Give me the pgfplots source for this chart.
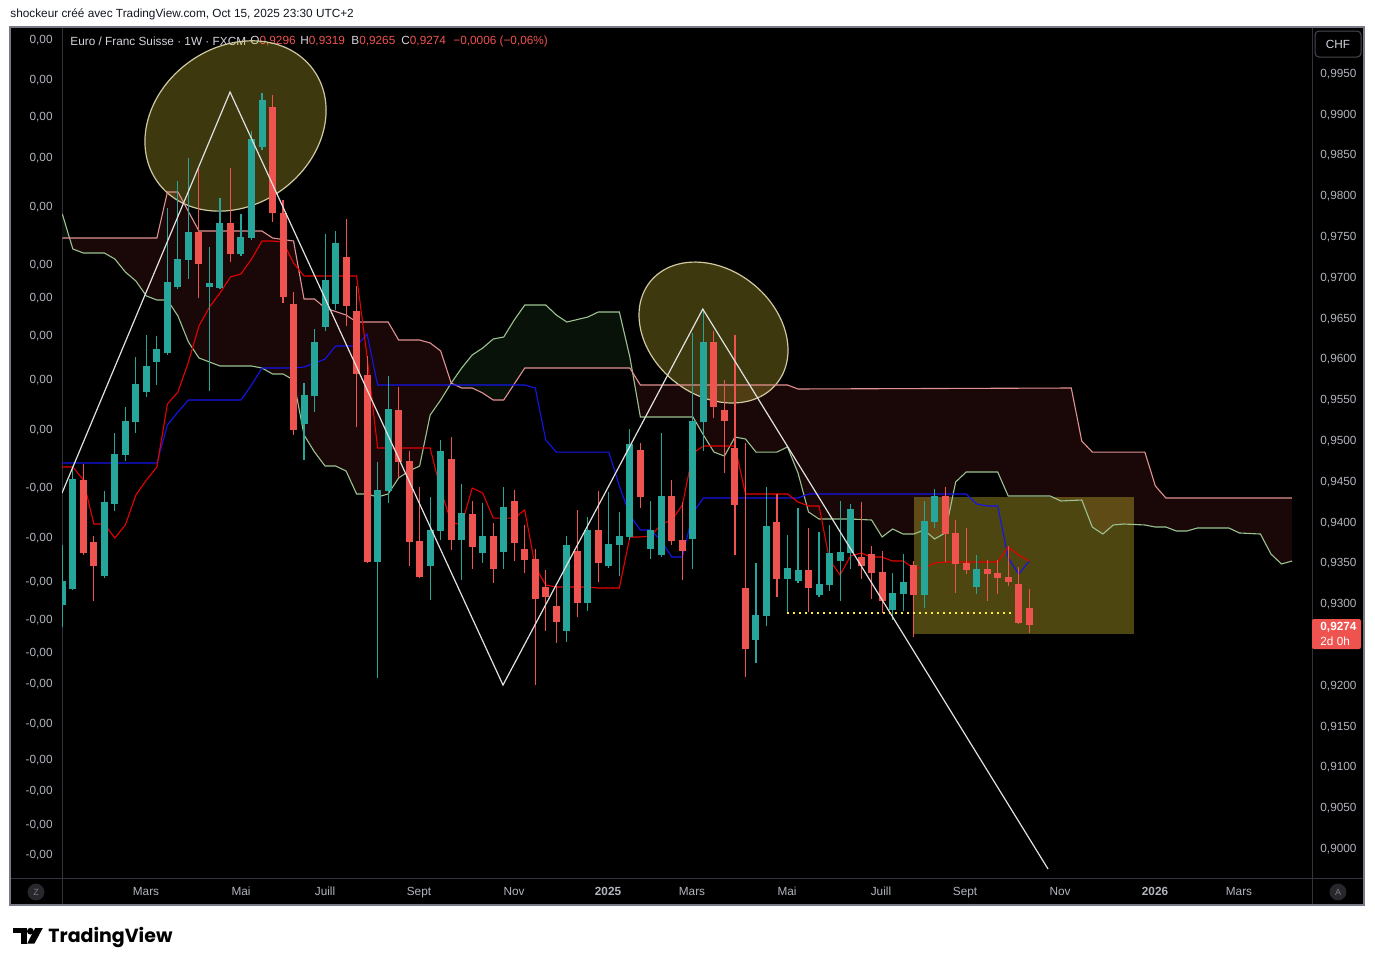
\documentclass[border=0pt]{standalone}
\usepackage{fontspec}
\setmainfont{Liberation Sans}
\newfontfamily\logofont{Poppins}
\usepackage{pgfplots}
\pgfplotsset{compat=1.18}
\usepackage{pgfplotstable}

\definecolor{tvgreen}{RGB}{38,166,154}
\definecolor{tvred}{RGB}{239,83,80}
\definecolor{tvtext}{RGB}{178,181,190}
\definecolor{tvtitle}{RGB}{209,212,220}
\definecolor{cloudred}{RGB}{26,7,7}
\definecolor{cloudgreen}{RGB}{9,18,9}
\definecolor{spanA}{RGB}{155,195,145}
\definecolor{spanB}{RGB}{225,145,145}
\definecolor{tenkan}{RGB}{230,0,0}
\definecolor{kijun}{RGB}{20,20,235}
\definecolor{tvyellow}{RGB}{255,235,59}
\definecolor{ellborder}{RGB}{205,200,160}
\definecolor{sep}{RGB}{50,52,60}
\definecolor{border}{RGB}{120,123,134}
\definecolor{headtext}{RGB}{19,23,34}
\definecolor{zigzag}{RGB}{225,225,225}
\definecolor{circ}{RGB}{40,40,44}

\newcommand\tvfont{\fontsize{5.9}{7}\selectfont}

\pgfplotstableread{
i O H L C
0 0.9299 0.9373 0.9272 0.9329
1 0.9319 0.9470 0.9317 0.9454
4 0.9335 0.9439 0.9332 0.9425
5 0.9423 0.9510 0.9414 0.9484
6 0.9483 0.9542 0.9476 0.9525
7 0.9523 0.9603 0.9510 0.9570
8 0.9560 0.9630 0.9554 0.9592
9 0.9597 0.9629 0.9569 0.9613
10 0.9608 0.9786 0.9606 0.9695
11 0.9689 0.9819 0.9686 0.9723
12 0.9722 0.9847 0.9699 0.9756
14 0.9689 0.9738 0.9561 0.9694
15 0.9688 0.9798 0.9686 0.9767
17 0.9729 0.9778 0.9727 0.9750
18 0.9749 0.9880 0.9747 0.9870
19 0.9861 0.9927 0.9857 0.9918
23 0.9521 0.9571 0.9477 0.9557
24 0.9555 0.9637 0.9536 0.9621
25 0.9640 0.9754 0.9635 0.9697
26 0.9668 0.9758 0.9661 0.9743
30 0.9352 0.9474 0.9210 0.9440
31 0.9439 0.9580 0.9424 0.9539
35 0.9347 0.9432 0.9305 0.9391
36 0.9390 0.9501 0.9379 0.9488
38 0.9379 0.9447 0.9330 0.9412
40 0.9363 0.9424 0.9351 0.9384
42 0.9364 0.9444 0.9343 0.9419
48 0.9267 0.9384 0.9254 0.9373
50 0.9302 0.9407 0.9292 0.9391
52 0.9347 0.9438 0.9345 0.9374
53 0.9373 0.9413 0.9335 0.9384
54 0.9383 0.9515 0.9379 0.9496
56 0.9368 0.9427 0.9356 0.9391
57 0.9360 0.9510 0.9358 0.9433
60 0.9380 0.9632 0.9343 0.9525
61 0.9523 0.9661 0.9488 0.9621
66 0.9256 0.9351 0.9228 0.9287
67 0.9286 0.9444 0.9273 0.9396
69 0.9331 0.9385 0.9289 0.9345
70 0.9329 0.9418 0.9326 0.9342
72 0.9311 0.9389 0.9309 0.9325
73 0.9324 0.9397 0.9316 0.9363
74 0.9353 0.9427 0.9304 0.9364
75 0.9363 0.9423 0.9343 0.9417
79 0.9293 0.9338 0.9281 0.9314
80 0.9313 0.9362 0.9292 0.9327
82 0.9311 0.9427 0.9295 0.9402
83 0.9401 0.9441 0.9394 0.9433
87 0.9321 0.9360 0.9313 0.9343
}\greentab

\pgfplotstableread{
i O H L C
2 0.9452 0.9472 0.9360 0.9363
3 0.9376 0.9384 0.9304 0.9347
13 0.9756 0.9834 0.9675 0.9717
16 0.9767 0.9835 0.9720 0.9729
20 0.9910 0.9924 0.9769 0.9780
21 0.9780 0.9795 0.9669 0.9677
22 0.9668 0.9683 0.9508 0.9514
27 0.9726 0.9772 0.9641 0.9666
28 0.9660 0.9690 0.9517 0.9582
29 0.9581 0.9604 0.9350 0.9352
32 0.9538 0.9566 0.9455 0.9474
33 0.9476 0.9488 0.9347 0.9376
34 0.9378 0.9444 0.9332 0.9333
37 0.9478 0.9505 0.9367 0.9379
39 0.9411 0.9427 0.9343 0.9370
41 0.9384 0.9400 0.9326 0.9343
43 0.9427 0.9440 0.9353 0.9375
44 0.9368 0.9397 0.9338 0.9354
45 0.9356 0.9368 0.9201 0.9306
46 0.9321 0.9342 0.9267 0.9309
47 0.9298 0.9322 0.9253 0.9278
49 0.9365 0.9416 0.9284 0.9302
51 0.9391 0.9439 0.9327 0.9351
55 0.9489 0.9498 0.9418 0.9432
58 0.9433 0.9452 0.9373 0.9378
59 0.9379 0.9425 0.9330 0.9365
62 0.9621 0.9635 0.9528 0.9542
63 0.9538 0.9575 0.9461 0.9525
64 0.9492 0.9630 0.9360 0.9422
65 0.9320 0.9498 0.9211 0.9245
68 0.9401 0.9435 0.9309 0.9331
71 0.9342 0.9394 0.9291 0.9320
76 0.9358 0.9425 0.9331 0.9347
77 0.9362 0.9371 0.9306 0.9338
78 0.9340 0.9365 0.9289 0.9304
81 0.9348 0.9353 0.9260 0.9311
84 0.9433 0.9444 0.9352 0.9386
85 0.9387 0.9403 0.9314 0.9349
86 0.9351 0.9394 0.9337 0.9342
88 0.9343 0.9354 0.9304 0.9337
89 0.9338 0.9354 0.9313 0.9332
90 0.9333 0.9371 0.9322 0.9327
91 0.9325 0.9346 0.9276 0.9277
92 0.9296 0.9319 0.9265 0.9274
}\redtab

\begin{document}
\begin{tikzpicture}
\path[use as bounding box] (0pt,0pt) rectangle (687.5pt,-483pt);
\fill[white] (0pt,0pt) rectangle (687.5pt,-483pt);
% chart frame
\fill[black] (5pt,-13.5pt) rectangle (682pt,-452.5pt);
\draw[sep, line width=0.5pt] (31pt,-13.5pt) -- (31pt,-452.5pt);
\draw[sep, line width=0.5pt] (656pt,-13.5pt) -- (656pt,-452.5pt);
\draw[sep, line width=0.5pt] (5pt,-439pt) -- (682pt,-439pt);
\draw[border, line width=0.6pt] (5pt,-13.5pt) rectangle (682pt,-452.5pt);
% header
\node[anchor=west, inner sep=0pt, font=\tvfont, text=headtext] at (5pt,-7pt) {shockeur créé avec TradingView.com, Oct 15, 2025 23:30 UTC+2};
% legend
\node[anchor=west, inner sep=0pt, font=\tvfont, text=tvtitle] at (35pt,-20.5pt) {Euro / Franc Suisse · 1W · FXCM};
\node[anchor=west, inner sep=0pt, font=\tvfont] at (125pt,-20.5pt) {\textcolor{tvtitle}{O}\textcolor{tvred}{0,9296}};
\node[anchor=west, inner sep=0pt, font=\tvfont] at (150pt,-20.5pt) {\textcolor{tvtitle}{H}\textcolor{tvred}{0,9319}};
\node[anchor=west, inner sep=0pt, font=\tvfont] at (175.5pt,-20.5pt) {\textcolor{tvtitle}{B}\textcolor{tvred}{0,9265}};
\node[anchor=west, inner sep=0pt, font=\tvfont] at (200.5pt,-20.5pt) {\textcolor{tvtitle}{C}\textcolor{tvred}{0,9274}};
\node[anchor=west, inner sep=0pt, font=\tvfont, text=tvred] at (226.5pt,-20.5pt) {−0,0006 (−0,06\%)};
% left indicator scale
\foreach \yy in {40,80,117,158,207,265,298,336,380,430}
  \node[anchor=east, inner sep=0pt, font=\tvfont, text=tvtext] at (26.5pt,-\yy*0.5pt) {0,00};
\foreach \yy in {488,538,582,620,653,684,724,760,791,825,855}
  \node[anchor=east, inner sep=0pt, font=\tvfont, text=tvtext] at (26.5pt,-\yy*0.5pt) {-0,00};

\begin{axis}[
  at={(31pt,-439pt)}, anchor=south west,
  scale only axis, width=625pt, height=425.5pt,
  xmin=-0.03, xmax=118.906, ymin=0.896446, ymax=1.000761,
  axis line style={draw=none},
  major tick length=0pt,
  xtick={7.964,17.003,24.995,33.939,42.978,51.922,59.914,68.953,77.897,85.89,94.93,103.97,111.96},
  xticklabels={Mars,Mai,Juill,Sept,Nov,\textbf{2025},Mars,Mai,Juill,Sept,Nov,\textbf{2026},Mars},
  ytick={0.900,0.905,0.910,0.915,0.920,0.930,0.935,0.940,0.945,0.950,0.955,0.960,0.965,0.970,0.975,0.980,0.985,0.990,0.995},
  yticklabels={{0,9000},{0,9050},{0,9100},{0,9150},{0,9200},{0,9300},{0,9350},{0,9400},{0,9450},{0,9500},{0,9550},{0,9600},{0,9650},{0,9700},{0,9750},{0,9800},{0,9850},{0,9900},{0,9950}},
  yticklabel pos=right,
  ticklabel style={font=\tvfont, text=tvtext, inner sep=0pt},
  xticklabel style={anchor=base, yshift=-8.6pt},
  yticklabel style={anchor=west, xshift=4pt},
]
% cloud (red everywhere, green where span A is above span B)
\addplot[fill=cloudred, draw=none, forget plot] coordinates {
(0,0.97784)(1,0.97355)(2,0.97306)(4,0.97306)(5,0.97232)(6,0.97073)(7,0.96963)(8,0.96779)(9,0.96730)(10,0.96730)(11,0.96534)(12,0.96215)(13,0.96019)(14,0.95970)(15,0.95921)(18,0.95921)(19,0.95896)(20,0.95823)(21,0.95823)(22,0.95749)(23,0.95075)(24,0.94866)(25,0.94695)(26,0.94695)(27,0.94634)(28,0.94352)(29,0.94352)(30,0.94315)(31,0.94352)(32,0.94548)(33,0.94634)(34,0.94695)(35,0.95320)(36,0.95504)(37,0.95712)(38,0.95896)(39,0.96056)(40,0.96141)(41,0.96252)(42,0.96276)(43,0.96485)(44,0.96668)(46,0.96668)(47,0.96546)(48,0.96460)(50,0.96521)(51,0.96583)(53,0.96583)(54,0.96031)(55,0.95296)(60,0.95296)(61,0.95075)(62,0.94866)(63,0.94817)(64,0.95050)(65,0.95026)(66,0.94866)(68,0.94866)(69,0.94928)(70,0.94609)(71,0.94131)(72,0.94045)(75,0.94045)(77,0.94033)(78,0.93825)(79,0.93923)(80,0.93861)(81,0.93861)(82,0.93910)(83,0.93800)(84,0.93874)(85,0.94499)(86,0.94621)(89,0.94621)(90,0.94327)(94,0.94327)(95,0.94266)(97,0.94278)(98,0.93947)(99,0.93861)(100,0.93972)(101,0.93984)(103,0.93972)(104,0.93947)(105,0.93947)(106,0.93898)(107,0.93898)(108,0.93935)(111,0.93935)(112,0.93874)(114,0.93861)(115,0.93616)(116,0.93494)(117,0.93530)
(117,0.94303)(105,0.94303)(104,0.94450)(103,0.94866)(98,0.94866)(97,0.95001)(96,0.95651)(70,0.95639)(69,0.95688)(55,0.95688)(54,0.95896)(44,0.95896)(42,0.95504)(41,0.95504)(40,0.95590)(39,0.95651)(38,0.95651)(37,0.95712)(36,0.96105)(35,0.96203)(34,0.96239)(32,0.96239)(31,0.96460)(28,0.96460)(27,0.96546)(25,0.96632)(24,0.96742)(23,0.96742)(22,0.97453)(20,0.97490)(19,0.97575)(13,0.97575)(11,0.98054)(10,0.98054)(9,0.97490)(0,0.97490)};
\addplot[fill=cloudgreen, draw=none, forget plot] coordinates {(0,0.97784)(0.69,0.97490)(0,0.97490)};
\addplot[fill=cloudgreen, draw=none, forget plot] coordinates {
(37,0.95712)(38,0.95896)(39,0.96056)(40,0.96141)(41,0.96252)(42,0.96276)(43,0.96485)(44,0.96668)(46,0.96668)(47,0.96546)(48,0.96460)(50,0.96521)(51,0.96583)(53,0.96583)(54,0.96031)(54.26,0.95864)
(54,0.95896)(44,0.95896)(42,0.95504)(41,0.95504)(40,0.95590)(39,0.95651)(38,0.95651)(37,0.95712)};
% drawings behind the price
\draw[fill=tvyellow, fill opacity=0.24, draw=ellborder, line width=0.6pt, rotate around={35.7:(axis cs:16.48,0.98863)}] (axis cs:16.48,0.98863) ellipse [x radius=48pt, y radius=39.5pt];
\draw[fill=tvyellow, fill opacity=0.24, draw=ellborder, line width=0.6pt, rotate around={-38.7:(axis cs:61.96,0.96331)}] (axis cs:61.96,0.96331) ellipse [x radius=40.6pt, y radius=31.3pt];
\fill[tvyellow, fill opacity=0.3] (axis cs:81.04,0.92636) rectangle (axis cs:101.97,0.94315);
% ichimoku lines
\addplot[spanA, line width=0.55pt, forget plot] coordinates {
(0,0.97784)(1,0.97355)(2,0.97306)(4,0.97306)(5,0.97232)(6,0.97073)(7,0.96963)(8,0.96779)(9,0.96730)(10,0.96730)(11,0.96534)(12,0.96215)(13,0.96019)(14,0.95970)(15,0.95921)(18,0.95921)(19,0.95896)(20,0.95823)(21,0.95823)(22,0.95749)(23,0.95075)(24,0.94866)(25,0.94695)(26,0.94695)(27,0.94634)(28,0.94352)(29,0.94352)(30,0.94315)(31,0.94352)(32,0.94548)(33,0.94634)(34,0.94695)(35,0.95320)(36,0.95504)(37,0.95712)(38,0.95896)(39,0.96056)(40,0.96141)(41,0.96252)(42,0.96276)(43,0.96485)(44,0.96668)(46,0.96668)(47,0.96546)(48,0.96460)(50,0.96521)(51,0.96583)(53,0.96583)(54,0.96031)(55,0.95296)(60,0.95296)(61,0.95075)(62,0.94866)(63,0.94817)(64,0.95050)(65,0.95026)(66,0.94866)(68,0.94866)(69,0.94928)(70,0.94609)(71,0.94131)(72,0.94045)(75,0.94045)(77,0.94033)(78,0.93825)(79,0.93923)(80,0.93861)(81,0.93861)(82,0.93910)(83,0.93800)(84,0.93874)(85,0.94499)(86,0.94621)(89,0.94621)(90,0.94327)(94,0.94327)(95,0.94266)(97,0.94278)(98,0.93947)(99,0.93861)(100,0.93972)(101,0.93984)(103,0.93972)(104,0.93947)(105,0.93947)(106,0.93898)(107,0.93898)(108,0.93935)(111,0.93935)(112,0.93874)(114,0.93861)(115,0.93616)(116,0.93494)(117,0.93530)};
\addplot[spanB, line width=0.55pt, forget plot] coordinates {
(0,0.97490)(9,0.97490)(10,0.98054)(11,0.98054)(13,0.97575)(19,0.97575)(20,0.97490)(22,0.97453)(23,0.96742)(24,0.96742)(25,0.96632)(27,0.96546)(28,0.96460)(31,0.96460)(32,0.96239)(34,0.96239)(35,0.96203)(36,0.96105)(37,0.95712)(38,0.95651)(39,0.95651)(40,0.95590)(41,0.95504)(42,0.95504)(44,0.95896)(54,0.95896)(55,0.95688)(69,0.95688)(70,0.95639)(96,0.95651)(97,0.95001)(98,0.94866)(103,0.94866)(104,0.94450)(105,0.94303)(117,0.94303)};
\addplot[kijun, line width=0.55pt, forget plot] coordinates {
(0,0.94732)(9,0.94732)(10,0.95197)(11,0.95357)(12,0.95504)(17,0.95504)(18,0.95688)(19,0.95896)(22,0.95896)(23,0.95908)(24,0.95957)(25,0.96006)(26,0.96166)(28,0.96166)(29,0.96313)(30,0.95688)(44,0.95688)(45,0.95651)(46,0.95014)(47,0.94866)(52,0.94866)(53,0.94450)(54,0.94094)(55,0.93910)(56,0.93910)(57,0.93776)(58,0.93579)(59,0.93579)(60,0.94119)(61,0.94303)(70,0.94303)(71,0.94352)(86,0.94352)(87,0.94229)(88,0.94205)(89,0.94205)(90,0.93567)(91,0.93371)(92,0.93530)};
\addplot[tenkan, line width=0.55pt, forget plot] coordinates {
(0,0.94683)(1,0.94683)(2,0.94523)(3,0.93984)(4,0.93984)(5,0.93812)(6,0.93972)(7,0.94339)(8,0.94523)(9,0.94683)(10,0.95455)(11,0.95602)(12,0.95970)(13,0.96411)(14,0.96644)(15,0.96815)(16,0.97012)(17,0.97048)(18,0.97232)(19,0.97453)(20,0.97453)(21,0.97441)(22,0.97183)(23,0.97024)(28,0.97024)(29,0.96031)(30,0.94916)(35,0.94916)(36,0.94401)(37,0.94008)(38,0.93972)(39,0.94425)(40,0.94364)(41,0.94057)(43,0.94057)(44,0.94156)(45,0.93457)(46,0.93236)(47,0.93212)(50,0.93212)(51,0.93199)(53,0.93199)(54,0.93825)(55,0.93825)(56,0.93837)(57,0.93984)(58,0.94033)(59,0.94217)(60,0.94854)(61,0.94940)(64,0.94940)(65,0.94352)(69,0.94352)(70,0.94254)(71,0.94205)(72,0.94205)(73,0.93543)(74,0.93359)(75,0.93592)(76,0.93628)(77,0.93579)(78,0.93579)(79,0.93530)(80,0.93530)(81,0.93445)(82,0.93445)(83,0.93506)(84,0.93518)(89,0.93518)(90,0.93702)(91,0.93604)(92,0.93530)};
% candles: wicks
\addplot[draw=none, mark=none, forget plot, error bars/.cd, y dir=plus, y explicit, error mark=none, error bar style={draw=tvgreen, line width=0.55pt}]
  table[x=i, y=L, y error plus expr=\thisrow{H}-\thisrow{L}] {\greentab};
\addplot[draw=none, mark=none, forget plot, error bars/.cd, y dir=plus, y explicit, error mark=none, error bar style={draw=tvred, line width=0.55pt}]
  table[x=i, y=L, y error plus expr=\thisrow{H}-\thisrow{L}] {\redtab};
% candles: bodies
\addplot[draw=none, mark=none, forget plot, error bars/.cd, y dir=plus, y explicit, error mark=none, error bar style={draw=tvgreen, line width=3.5pt}]
  table[x=i, y=O, y error plus expr=\thisrow{C}-\thisrow{O}] {\greentab};
\addplot[draw=none, mark=none, forget plot, error bars/.cd, y dir=plus, y explicit, error mark=none, error bar style={draw=tvred, line width=3.5pt}]
  table[x=i, y=C, y error plus expr=\thisrow{O}-\thisrow{C}] {\redtab};
% drawings on top
\addplot[zigzag, line width=0.6pt, forget plot] coordinates {(-0.03,0.94364)(15.96,0.99279)(41.93,0.92010)(60.94,0.96619)(93.79,0.89755)};
\addplot[tvyellow, line width=1.2pt, dash pattern=on 1.2pt off 1.8pt, forget plot] coordinates {(68.95,0.92893)(90.36,0.92893)};
\end{axis}

% right scale extras
\draw[fill=black, draw=border!60!black, rounded corners=2pt, line width=0.5pt] (657.5pt,-15.5pt) rectangle (680.5pt,-28.5pt);
\node[font=\tvfont, text=tvtitle, inner sep=0pt] at (669pt,-22pt) {CHF};
\fill[tvred, rounded corners=1pt] (656pt,-309.5pt) rectangle (680.5pt,-324.5pt);
\node[anchor=west, inner sep=0pt, font=\tvfont\bfseries, text=white] at (660pt,-313.5pt) {0,9274};
\node[anchor=west, inner sep=0pt, font=\tvfont, text=white] at (660pt,-320.5pt) {2d 0h};
% Z / A buttons
\fill[circ] (18pt,-446pt) circle (4.2pt);
\node[font=\fontsize{4.5}{5}\selectfont, text=border, inner sep=0pt] at (18pt,-446pt) {Z};
\fill[circ] (669pt,-446pt) circle (4.2pt);
\node[font=\fontsize{4.5}{5}\selectfont, text=border, inner sep=0pt] at (669pt,-446pt) {A};
% TradingView logo
\fill[black] (6.35pt,-464pt) rectangle (13.35pt,-466.6pt);
\fill[black] (10.35pt,-466.5pt) rectangle (13.35pt,-471.8pt);
\fill[black] (15.2pt,-465.6pt) circle (1.7pt);
\fill[black] (17.6pt,-464pt) -- (21.4pt,-464pt) -- (17.2pt,-471.8pt) -- (13.6pt,-471.8pt) -- cycle;
\node[anchor=west, inner sep=0pt, font=\logofont\bfseries\fontsize{9.5}{11}\selectfont, text=black] at (24pt,-468.5pt) {TradingView};
\end{tikzpicture}
\end{document}
